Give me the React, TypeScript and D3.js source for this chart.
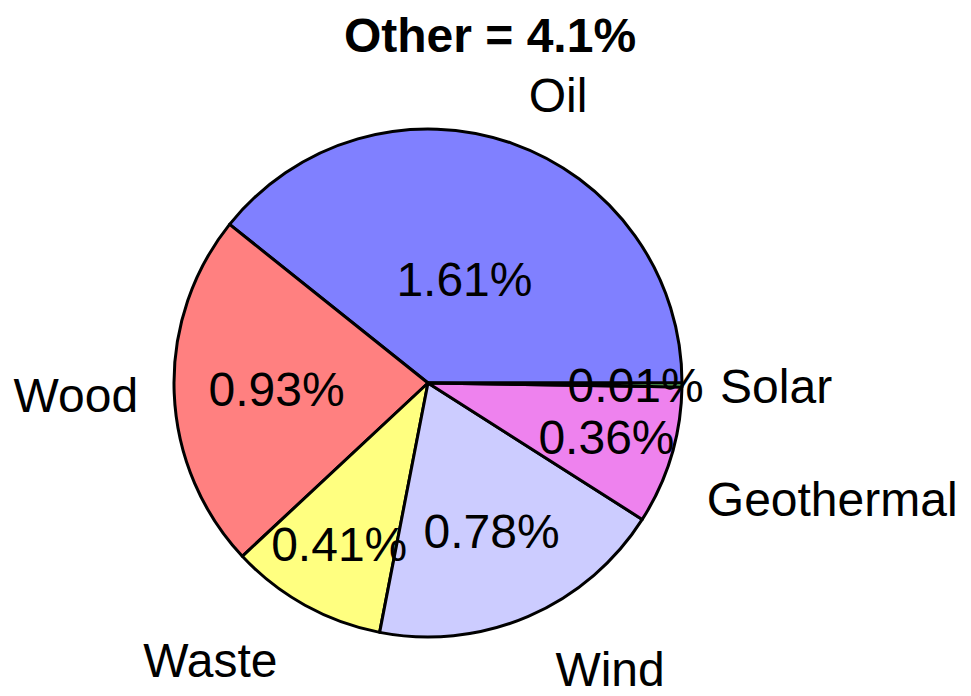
import React from "react";
import * as d3 from "d3";

const categories = ["Oil", "Wood", "Waste", "Wind", "Geothermal", "Solar"];
const values = [1.61, 0.93, 0.41, 0.78, 0.36, 0.01];
const colors = ["#8080FF", "#FF8080", "#FFFF80", "#CCCCFF", "#EE82EE", "#80FF80"];
const titleText = "Other = 4.1%";

// layout-only nudges for outer labels (px)
const labelNudgeX = [4, 2, -9, 12, -1, 0];
const labelNudgeY = [0, 0, 10, 5, 28, 0];

const W = 971;
const H = 696;
const cx = 428;
const cy = 383;
const R = 254;
const FONT = "'Liberation Sans', Arial, Helvetica, sans-serif";

export default function App() {
  const total = d3.sum(values);
  const pie = d3
    .pie<number>()
    .sort(null)
    .value((d) => d)
    .startAngle(Math.PI / 2)
    .endAngle(Math.PI / 2 - 2 * Math.PI);
  const arcs = pie(values);
  const arc = d3.arc<d3.PieArcDatum<number>>().innerRadius(0).outerRadius(R);

  return (
    <svg
      width={W}
      height={H}
      style={{ position: "absolute", left: 0, top: 0, background: "#fff" }}
      fontFamily={FONT}
    >
      <g transform={`translate(${cx},${cy})`}>
        {arcs.map((a, i) => (
          <path
            key={"s" + i}
            d={arc(a) || ""}
            fill={colors[i]}
            stroke="#000"
            strokeWidth={3}
            strokeLinejoin="round"
          />
        ))}
        {arcs.map((a, i) => {
          const mid = (a.startAngle + a.endAngle) / 2;
          const frac = values[i] / total;
          const r = R * (0.82 - 0.984 * frac);
          const x = r * Math.sin(mid);
          const y = -r * Math.cos(mid);
          return (
            <text
              key={"p" + i}
              x={x}
              y={y}
              dy="0.36em"
              textAnchor="middle"
              fontSize={48}
              fill="#000"
            >
              {values[i].toFixed(2) + "%"}
            </text>
          );
        })}
        {arcs.map((a, i) => {
          const mid = (a.startAngle + a.endAngle) / 2;
          const r = R * 1.15;
          const ux = Math.sin(mid);
          const uy = -Math.cos(mid);
          const x = r * ux + labelNudgeX[i];
          const y = r * uy + 13 * uy + labelNudgeY[i];
          return (
            <text
              key={"l" + i}
              x={x}
              y={y}
              dy="0.36em"
              textAnchor={ux < 0 ? "end" : "start"}
              fontSize={48}
              fill="#000"
            >
              {categories[i]}
            </text>
          );
        })}
      </g>
      <text
        x={490}
        y={52}
        textAnchor="middle"
        fontSize={48}
        fontWeight="bold"
        fill="#000"
      >
        {titleText}
      </text>
    </svg>
  );
}
